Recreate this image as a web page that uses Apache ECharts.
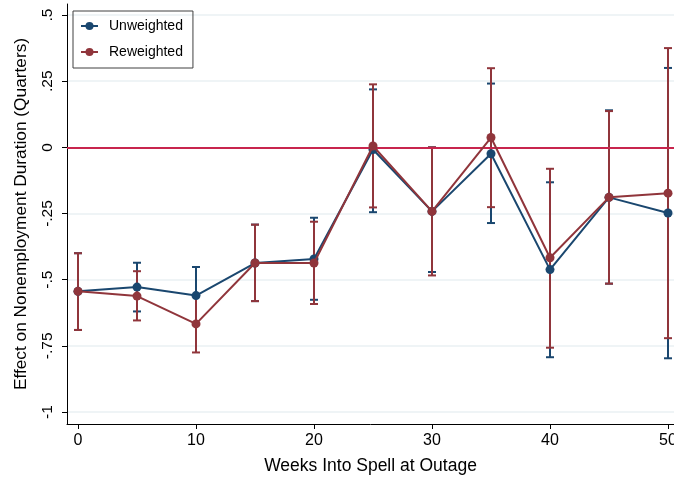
<!DOCTYPE html>
<html>
<head>
<meta charset="utf-8">
<script src="https://cdn.jsdelivr.net/npm/echarts@6/dist/echarts.min.js"></script>
<style>html,body{margin:0;padding:0;background:#fff;}#chart{width:674px;height:481px;}</style>
</head>
<body>
<div id="chart"></div>
<script>
var weeks = [0, 5, 10, 15, 20, 25, 30, 35, 40, 45, 50];
var unweighted = [-0.544, -0.528, -0.56, -0.437, -0.422, -0.008, -0.242, -0.024, -0.462, -0.189, -0.248];
var unweightedLow = [-0.69, -0.62, -0.668, -0.581, -0.576, -0.245, -0.471, -0.286, -0.793, -0.515, -0.797];
var unweightedHigh = [-0.40, -0.436, -0.452, -0.292, -0.266, 0.219, 0.0, 0.241, -0.132, 0.14, 0.30];
var reweighted = [-0.544, -0.562, -0.667, -0.437, -0.437, 0.005, -0.242, 0.037, -0.417, -0.189, -0.173];
var reweightedLow = [-0.69, -0.654, -0.775, -0.581, -0.592, -0.227, -0.484, -0.226, -0.757, -0.515, -0.721];
var reweightedHigh = [-0.40, -0.468, -0.559, -0.292, -0.281, 0.238, 0.0, 0.299, -0.081, 0.137, 0.375];
var xTicks = [0, 10, 20, 30, 40, 50];
var yTicks = [-1, -0.75, -0.5, -0.25, 0, 0.25, 0.5];
var yTickLabels = {'-1': '-1', '-0.75': '-.75', '-0.5': '-.5', '-0.25': '-.25', '0': '0', '0.25': '.25', '0.5': '.5'};
var seriesNames = ['Unweighted', 'Reweighted'];
var colors = ['#1a476f', '#90353b'];

var FONT = 'Liberation Sans, Arial, sans-serif';

function pairs(xs, ys) { return xs.map(function (x, i) { return [x, ys[i]]; }); }
function triples(xs, lo, hi) { return xs.map(function (x, i) { return [x, lo[i], hi[i]]; }); }

function errorBar(color) {
  return function (params, api) {
    var x = api.value(0);
    var top = api.coord([x, api.value(2)]);
    var bot = api.coord([x, api.value(1)]);
    var hw = 4;
    var st = { stroke: color, lineWidth: 2 };
    return {
      type: 'group',
      children: [
        { type: 'line', shape: { x1: top[0], y1: top[1], x2: bot[0], y2: bot[1] }, style: st },
        { type: 'line', shape: { x1: top[0] - hw, y1: top[1], x2: top[0] + hw, y2: top[1] }, style: st },
        { type: 'line', shape: { x1: bot[0] - hw, y1: bot[1], x2: bot[0] + hw, y2: bot[1] }, style: st }
      ]
    };
  };
}

var chart = echarts.init(document.getElementById('chart'), null, { renderer: 'canvas' });
chart.setOption({
  animation: false,
  backgroundColor: '#ffffff',
  grid: { left: 67, right: 0, top: 4, bottom: 57, containLabel: false, outerBoundsMode: 'none' },
  legend: {
    left: 73, top: 11, orient: 'vertical',
    data: seriesNames,
    itemWidth: 17, itemHeight: 10, itemGap: 12,
    padding: [8, 10, 9, 7],
    borderColor: '#404040', borderWidth: 1,
    textStyle: { fontFamily: FONT, fontSize: 14, color: '#000', padding: [0, 0, 0, 6] }
  },
  xAxis: {
    type: 'value', min: -0.932, max: 50.508,
    name: 'Weeks Into Spell at Outage', nameLocation: 'middle', nameGap: 33,
    nameTextStyle: { fontFamily: FONT, fontSize: 17.5, color: '#000' },
    axisLine: { show: true, onZero: false, lineStyle: { color: '#000', width: 1 } },
    axisTick: { show: true, length: 5, customValues: xTicks, lineStyle: { color: '#000' } },
    axisLabel: { customValues: xTicks, margin: 9, fontFamily: FONT, fontSize: 16, color: '#000' },
    splitLine: { show: false }
  },
  yAxis: {
    type: 'value', min: -1.0453, max: 0.5416,
    name: 'Effect on Nonemployment Duration (Quarters)', nameLocation: 'middle', nameGap: 37,
    nameTextStyle: { fontFamily: FONT, fontSize: 17.3, color: '#000' },
    axisLine: { show: true, onZero: false, lineStyle: { color: '#000', width: 1 } },
    axisTick: { show: true, length: 5, customValues: yTicks, lineStyle: { color: '#000' } },
    axisLabel: {
      customValues: yTicks, rotate: 90, margin: 11, fontFamily: FONT, fontSize: 15.5, color: '#000',
      formatter: function (v) { var k = String(Math.round(v * 100) / 100); return yTickLabels[k] !== undefined ? yTickLabels[k] : k; }
    },
    splitLine: { show: true, lineStyle: { color: '#eaf0f3', width: 1.5 } }
  },
  series: [
    {
      name: 'UnweightedCI', type: 'custom', renderItem: errorBar(colors[0]),
      data: triples(weeks, unweightedLow, unweightedHigh), z: 2, silent: true
    },
    {
      name: 'ReweightedCI', type: 'custom', renderItem: errorBar(colors[1]),
      data: triples(weeks, reweightedLow, reweightedHigh), z: 3, silent: true
    },
    {
      name: seriesNames[0], type: 'line', data: pairs(weeks, unweighted), z: 4,
      symbol: 'circle', symbolSize: 9, showAllSymbol: true,
      itemStyle: { color: colors[0] }, lineStyle: { color: colors[0], width: 2 },
      markLine: {
        silent: true, symbol: 'none', label: { show: false },
        lineStyle: { color: '#c8254d', width: 2, type: 'solid' },
        data: [{ yAxis: 0 }]
      }
    },
    {
      name: seriesNames[1], type: 'line', data: pairs(weeks, reweighted), z: 5,
      symbol: 'circle', symbolSize: 9, showAllSymbol: true,
      itemStyle: { color: colors[1] }, lineStyle: { color: colors[1], width: 2 }
    }
  ]
});
</script>
</body>
</html>
